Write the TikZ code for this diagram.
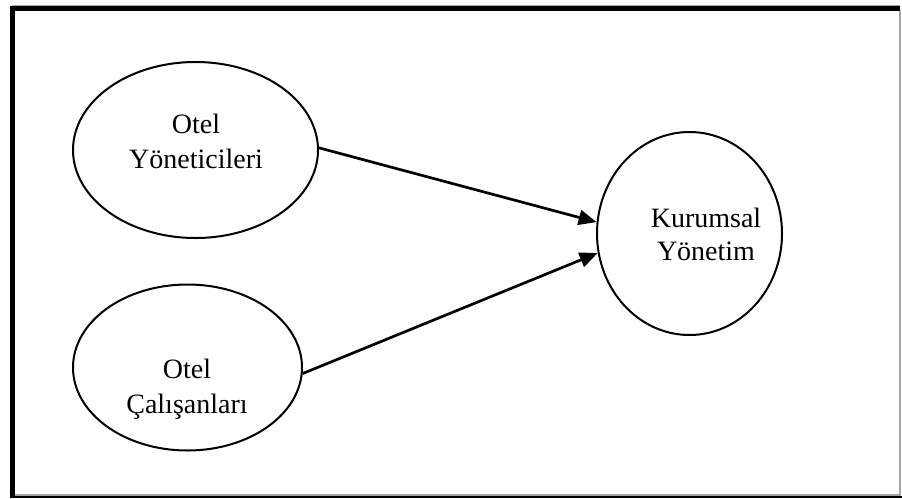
\documentclass[tikz,border=0pt]{standalone}
\usepackage{fontspec}
\setmainfont{Liberation Serif}
\usetikzlibrary{shapes.geometric,arrows.meta}
\begin{document}
\begin{tikzpicture}[x=1pt,y=-1pt,
  bubble/.style={draw=black,line width=2pt,ellipse,inner sep=0pt},
  lbl/.style={anchor=base,inner sep=0pt,font=\fontsize{28}{34}\selectfont},
  link/.style={line width=2.7pt,-{Triangle[length=18pt,width=15pt]}}]
\useasboundingbox (0,0) rectangle (902,498);
% frame with shadowed edges
\fill[gray!70] (12,4.5) rectangle (900,6);
\fill[black] (10,6) rectangle (900,11);
\fill[black] (10,6) rectangle (15,498);
\fill[black] (10,495.5) rectangle (902,498);
\fill[gray!70] (15,494) rectangle (900,495.5);
\fill[gray!70] (899,11) rectangle (900.5,495.5);
% bubbles
\node[bubble,minimum width=245,minimum height=176] (e1) at (195.5,150) {};
\node[bubble,minimum width=229,minimum height=166] (e2) at (187.5,367.5) {};
\node[bubble,minimum width=185,minimum height=203] (k) at (689.5,233.5) {};
% labels
\node[lbl] (t1a) at (196,133) {Otel};
\node[lbl] (t1b) at (196,168) {Yöneticileri};
\node[lbl] (t2a) at (187,378) {Otel};
\node[lbl] (t2b) at (187,413) {Çalışanları};
\node[lbl] (t3a) at (706,227) {Kurumsal};
\node[lbl] (t3b) at (706,260) {Yönetim};
% connectors
\draw[link] (e1.1) -- (k.173);
\draw[link] (e2.-3) -- (k.192);
\end{tikzpicture}
\end{document}
